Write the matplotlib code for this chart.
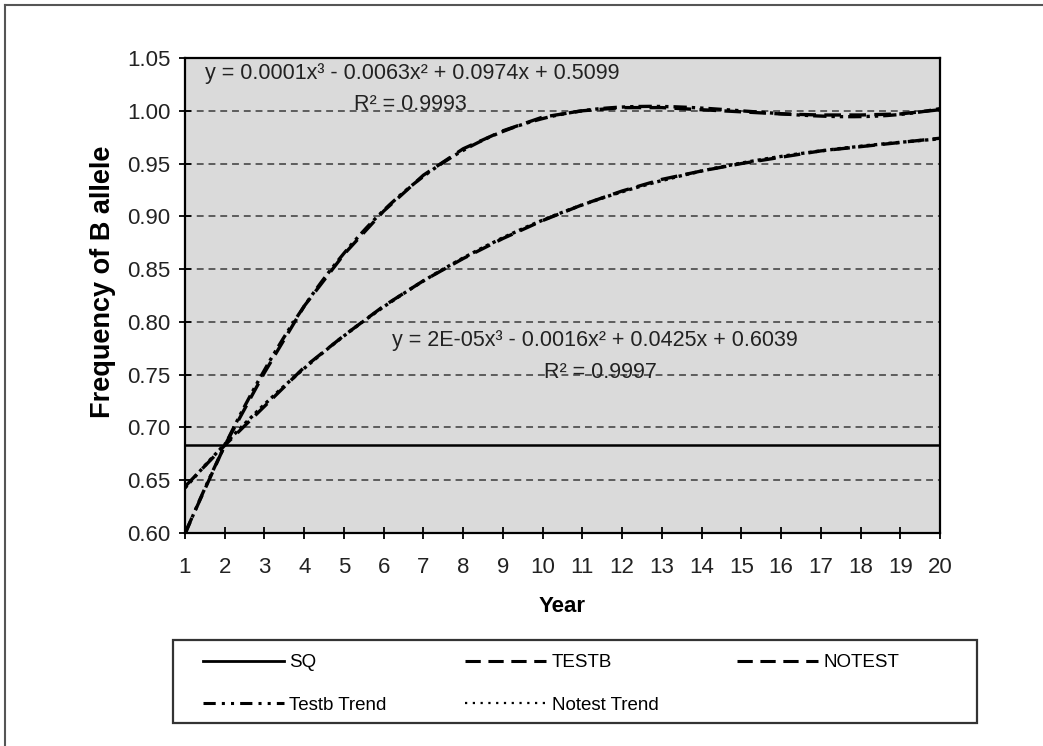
import numpy as np
import matplotlib
matplotlib.use("Agg")
import matplotlib.pyplot as plt
from matplotlib.lines import Line2D

plt.rcParams['font.family'] = ['Liberation Sans', 'DejaVu Sans']

# frequency of the B allele by year
years = list(range(1, 21))
sq = [0.683, 0.683, 0.683, 0.683, 0.683, 0.683, 0.683, 0.683, 0.683, 0.683,
      0.683, 0.683, 0.683, 0.683, 0.683, 0.683, 0.683, 0.683, 0.683, 0.683]
testb = [0.600, 0.683, 0.752, 0.815, 0.864, 0.905, 0.939, 0.964, 0.981, 0.994,
         1.000, 1.003, 1.003, 1.001, 0.999, 0.997, 0.996, 0.996, 0.997, 1.001]
notest = [0.644, 0.683, 0.720, 0.757, 0.787, 0.815, 0.839, 0.860, 0.879, 0.896,
          0.911, 0.924, 0.935, 0.943, 0.950, 0.956, 0.962, 0.966, 0.970, 0.974]

eq_testb = "y = 0.0001x³ - 0.0063x² + 0.0974x + 0.5099"
r2_testb = "R² = 0.9993"
eq_notest = "y = 2E-05x³ - 0.0016x² + 0.0425x + 0.6039"
r2_notest = "R² = 0.9997"

W, H = 1043, 746
fig = plt.figure(figsize=(W / 100, H / 100), dpi=100)
fig.patch.set_facecolor('white')

# sheet border (only top and left show)
fig.add_artist(Line2D([5 / W, 5 / W], [0, 1 - 5 / H], color='#555555', lw=1.5))
fig.add_artist(Line2D([5 / W, 1], [1 - 5 / H, 1 - 5 / H], color='#555555', lw=1.5))

ax = fig.add_axes([185 / W, 1 - 533 / H, (940 - 185) / W, (533 - 58) / H])
ax.set_facecolor('#dadada')

for v in np.arange(0.65, 1.001, 0.05):
    ax.axhline(v, color='#3a3a3a', lw=1.1, ls=(0, (4.5, 3.2)), zorder=1)

x = np.array(years)
ax.plot(x, sq, color='black', lw=1.8, zorder=3)
ax.plot(x, testb, color='black', lw=2.4, ls=(0, (5, 2.5)), zorder=3)
ax.plot(x, notest, color='black', lw=2.4, ls=(0, (5, 2.5)), zorder=3)

# cubic trend lines through each series
xs = np.linspace(1, 20, 300)
fit_t = np.polyfit(x, testb, 3)
fit_n = np.polyfit(x, notest, 3)
ax.plot(xs, np.polyval(fit_t, xs), color='black', lw=2.4,
        ls=(0, (4, 1.5, 1, 1.5, 1, 1.5)), zorder=4)
ax.plot(xs, np.polyval(fit_n, xs), color='black', lw=2.4,
        ls=(0, (1, 1.2)), zorder=4)

ax.set_xlim(1, 20)
ax.set_ylim(0.60, 1.05)
ax.set_xticks(years)
ax.set_yticks(np.arange(0.60, 1.051, 0.05))
ax.set_yticklabels(["%.2f" % t for t in np.arange(0.60, 1.051, 0.05)])
ax.tick_params(direction='inout', length=9, width=1.3, labelsize=16,
               colors='black', labelcolor='#222222')
ax.tick_params(axis='x', pad=13)
ax.tick_params(axis='y', pad=6)
for s in ax.spines.values():
    s.set_linewidth(1.6)
    s.set_color('black')

ax.set_xlabel("Year", fontsize=16, fontweight='bold', labelpad=13)
ax.set_ylabel("Frequency of B allele", fontsize=19.5, fontweight='bold')
ax.yaxis.set_label_coords(-0.091, 0.528)

tkw = dict(fontsize=15.5, color='#222222', transform=fig.transFigure, zorder=6)
fig.text(205 / W, 1 - 74 / H, eq_testb, ha='left', va='center', **tkw)
fig.text(410 / W, 1 - 105 / H, r2_testb, ha='center', va='center', **tkw)
fig.text(392 / W, 1 - 340 / H, eq_notest, ha='left', va='center', **tkw)
fig.text(600 / W, 1 - 373 / H, r2_notest, ha='center', va='center', **tkw)

# legend box underneath the plot
fig.add_artist(plt.Rectangle((173 / W, 1 - 723 / H), (977 - 173) / W, (723 - 640) / H,
                             transform=fig.transFigure, fill=False,
                             edgecolor='#333333', lw=1.6))
handles = [
    Line2D([], [], color='black', lw=2),
    Line2D([], [], color='black', lw=2.2, ls=(0, (4, 2, 1, 2, 1, 2))),
    Line2D([], [], color='black', lw=2.2, ls=(0, (5, 2.5))),
    Line2D([], [], color='black', lw=1.6, ls=(0, (1, 2.5))),
    Line2D([], [], color='black', lw=2.2, ls=(0, (5, 2.5))),
]
labels = ["SQ", "Testb Trend", "TESTB", "Notest Trend", "NOTEST"]
fig.legend(handles, labels, ncol=3, loc='upper left',
           bbox_to_anchor=(203 / W, 1 - 654 / H), frameon=False,
           fontsize=13.5, handlelength=4.3, handletextpad=0.3,
           columnspacing=4.2, labelspacing=1.35, borderpad=0, borderaxespad=0)

fig.savefig("out.png", dpi=100)
